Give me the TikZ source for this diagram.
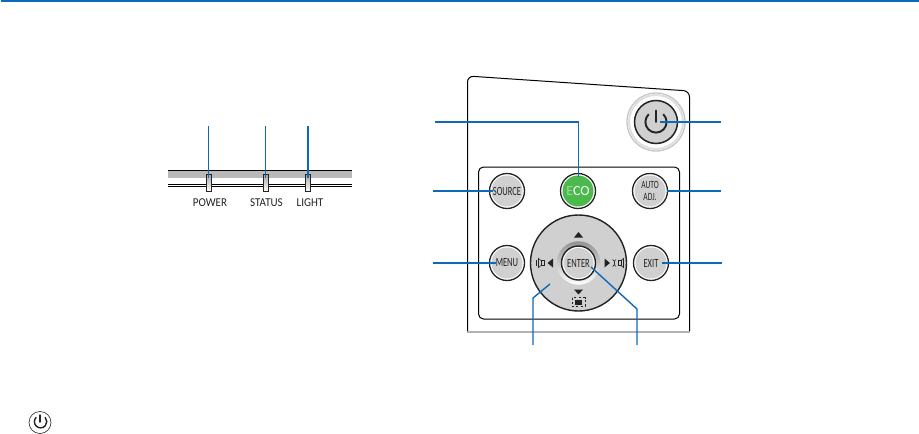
\documentclass[tikz,border=0pt]{standalone}
\usepackage{fontspec}
\setmainfont{Carlito}
\newfontfamily\condf[FakeStretch=0.68]{Carlito}
\newfontfamily\ledf[FakeStretch=0.92]{Carlito}
\definecolor{lead}{RGB}{15,105,185}
\definecolor{btngray}{RGB}{208,208,208}
\definecolor{ecog}{RGB}{75,185,75}
\definecolor{ink}{RGB}{35,35,35}
\tikzset{
  x=1pt,y=-1pt,
  leader/.style={draw=lead,line width=1.9pt},
  leaderthin/.style={draw=lead,line width=1.4pt},
  btn/.style={circle,draw=none,fill=btngray,minimum size=31pt,inner sep=0pt,font=\condf\fontsize{12.5}{11}\selectfont,text=ink},
  halo/.style={circle,draw=ink,line width=1.3pt,fill=white,minimum size=35pt,inner sep=0pt},
  ledbox/.style={draw=ink,line width=1.1pt,top color=gray!70,bottom color=white,minimum width=5.5pt,minimum height=17pt,inner sep=0pt},
  ledlabel/.style={font=\ledf\fontsize{12}{11}\selectfont,text=ink,inner sep=0pt},
  pwr/.style={line width=#1,line cap=round,draw=ink},
  arrowmark/.style={fill=ink,draw=none},
}
\begin{document}
\begin{tikzpicture}
\useasboundingbox (0,0) rectangle (919,434);
\fill[white] (0,0) rectangle (919,434);
% top rule
\fill[lead] (1,0) rectangle (919,2.2);

% indicator bar
\fill[gray!55] (168,170) rectangle (352,178);
\draw[line width=.9pt] (168,170) -- (352,170);
\draw[line width=.9pt] (168,184) -- (352,184);
\draw[line width=.9pt] (168,186.5) -- (352,186.5);
\node[ledbox] (ledP) at (209,183) {};
\node[ledbox] (ledS) at (266,183) {};
\node[ledbox] (ledL) at (308,183) {};
\node[ledlabel] (tP) at (210,202.5) {POWER};
\node[ledlabel] (tS) at (266.5,202.5) {STATUS};
\node[ledlabel] (tL) at (310,202.5) {LIGHT};
\coordinate (aP) at (208.5,126);
\coordinate (aS) at (265.5,126);
\coordinate (aL) at (307.5,126);
\coordinate (eP) at (208.5,178);
\coordinate (eS) at (265.5,178);
\coordinate (eL) at (307.5,178);
\draw[leaderthin] (aP) -- (eP);
\draw[leaderthin] (aS) -- (eS);
\draw[draw=lead,line width=2pt] (aL) -- (eL);

% remote panel
\fill[gray!60] (467,331) rectangle (690,333);
\draw[line width=1pt,rounded corners=6pt] (467.5,331) -- (467.5,76) -- (689.5,91) -- (689.5,331);
\draw[line width=1pt,rounded corners=5pt] (478.5,167) rectangle (679.5,319);

% power button
\node[circle,draw=gray!45,line width=1.3pt,fill=white,minimum size=58pt,inner sep=0pt] (pwrH) at (656,122) {};
\node[circle,draw=gray!25,line width=2pt,fill=none,minimum size=54pt,inner sep=0pt] (pwrI) at (656,122) {};
\node[circle,draw=ink,line width=1.5pt,fill=btngray,minimum size=43pt,inner sep=0pt] (pwrB) at (656,122) {};
\draw[pwr=1.9pt] (656,110.5) -- (656,122);
\draw[pwr=1.9pt] (648.5,114.5) arc[start angle=225,end angle=-45,radius=10.6];

% small buttons
\node[halo] at (507,191) {};
\node[halo] at (578,191) {};
\node[halo] at (650,191) {};
\node[halo] at (507,263) {};
\node[halo] at (651,263) {};
\node[btn] (source) at (507,191) {SOURCE};
\node[btn,fill=ecog,text=white,font=\fontsize{14}{13}\selectfont] (eco) at (578,191) {\textcolor{ecog!55!white}{E}CO};
\node[btn,align=center,font=\condf\fontsize{11}{11.5}\selectfont] (auto) at (650,191) {AUTO\\ADJ.};
\node[btn] (menu) at (507,263) {MENU};
\node[btn] (exit) at (651,263) {EXIT};

% d-pad
\node[circle,draw=ink,line width=1.4pt,fill=btngray,minimum size=96pt,inner sep=0pt] (dpad) at (578.5,263) {};
\node[circle,top color=gray!85,bottom color=white,minimum size=43.5pt,inner sep=0pt] (ring) at (578.5,263) {};
\node[circle,draw=ink,line width=1.4pt,fill=white,minimum size=34pt,inner sep=0pt] (enterring) at (578.5,263) {};
\node[btn,minimum size=30pt] (enter) at (578.5,263) {ENTER};
\coordinate (padhit) at (550,284);

% d-pad marks
\fill[arrowmark] (578.5,232) -- (574,237.5) -- (583,237.5) -- cycle;
\fill[arrowmark] (578.5,294.5) -- (574,289.5) -- (583,289.5) -- cycle;
\fill[arrowmark] (553,258.5) -- (553,267.5) -- (547.5,263) -- cycle;
\fill[arrowmark] (604.5,258.5) -- (604.5,267.5) -- (610,263) -- cycle;
\fill[ink] (575,299.5) rectangle (582,304.5);
\draw[ink,line width=.7pt,dash pattern=on 2.2pt off 2.2pt] (572,297.5) rectangle (585,306.5);
% speaker marks
\draw[ink,line width=.6pt] (541,260.5) rectangle (544,265.5);
\draw[ink,line width=.6pt] (541,260.5) -- (538.5,258.5) -- (538.5,267.5) -- (541,265.5);
\draw[ink,line width=.6pt] (536.5,260) -- (536.5,266);
\draw[ink,line width=.6pt] (621,260.5) rectangle (618,265.5);
\draw[ink,line width=.6pt] (621,260.5) -- (623.5,258.5) -- (623.5,267.5) -- (621,265.5);
\draw[ink,line width=.6pt] (612.5,259.5) .. controls (617,261.5) and (612,264.5) .. (616,266.5);
\draw[ink,line width=.6pt] (616,259.5) .. controls (612,261.5) and (617,264.5) .. (612.5,266.5);

% remote leaders
\coordinate (fEco) at (435,122);
\coordinate (fPwr) at (721,122);
\coordinate (fSrc) at (433,191);
\coordinate (fAuto) at (721,191);
\coordinate (fMenu) at (433,263);
\coordinate (fExit) at (722,263);
\coordinate (fPad) at (533,345);
\coordinate (fEnt) at (637,345);
\draw[leaderthin] (fEco) -- (578.5,122) -- (578.5,177);
\draw[leaderthin] (fPwr) -- (660,122);
\draw[leader] (fSrc) -- (493,191);
\draw[leader] (fAuto) -- (667,191);
\draw[leader] (fMenu) -- (496,263);
\draw[leader] (fExit) -- (662,263);
\draw[leaderthin] (fPad) -- (533,298) -- (padhit);
\draw[leaderthin] (fEnt) -- (637,309) -- (591,267);

% power icon in text
\node[circle,draw=ink,line width=.6pt,minimum size=22pt,inner sep=0pt] (icon) at (40,422.5) {};
\draw[pwr=1.4pt] (40,415) -- (40,422);
\draw[pwr=1.4pt] (36,417.5) arc[start angle=222,end angle=-42,radius=6.2];
\end{tikzpicture}
\end{document}
